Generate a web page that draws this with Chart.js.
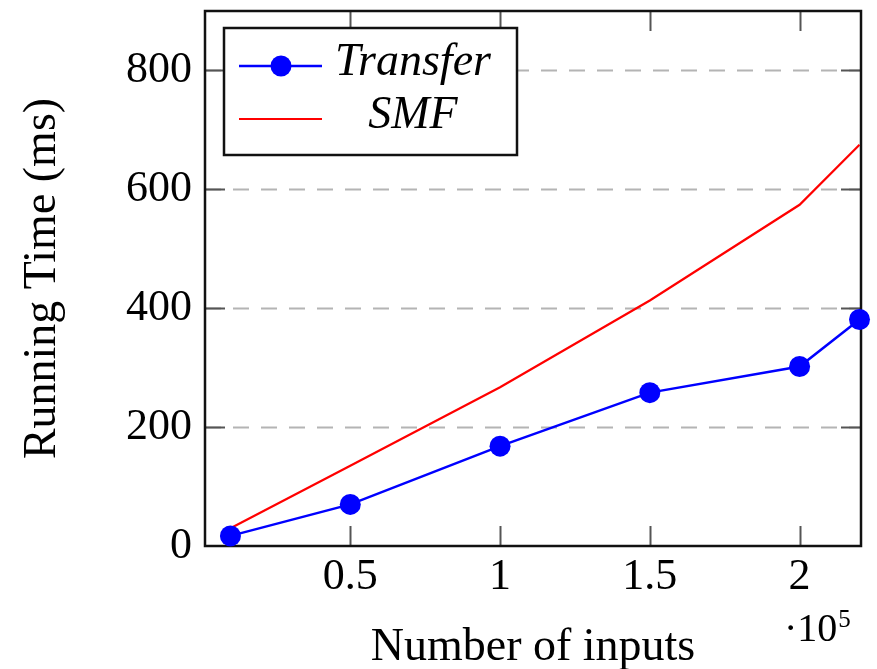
<!DOCTYPE html>
<html>
<head>
<meta charset="utf-8">
<script src="https://cdn.jsdelivr.net/npm/chart.js@4.4.1/dist/chart.umd.min.js"></script>
<style>
html,body{margin:0;padding:0;background:#fff;}
#wrap{width:877px;height:669px;position:relative;}
</style>
</head>
<body>
<div id="wrap"><canvas id="c" width="877" height="669"></canvas></div>
<script>
// ---- data ----
const inputs = [0.1, 0.5, 1, 1.5, 2, 2.2];          // x values (×10^5)
const transferTimes = [17, 70, 168, 258, 302, 381]; // ms
const smfTimes = [30, 135, 267, 413, 574, 675];     // ms
const xTickValues = [0.5, 1, 1.5, 2];
const yTickValues = [0, 200, 400, 600, 800];
const seriesNames = ['Transfer', 'SMF'];
const xTitle = 'Number of inputs';
const yTitle = 'Running Time (ms)';
const xExponent = '5';

const FONT = "'Liberation Serif', 'DejaVu Serif', serif";
const FS = 44;
const FT = 46;

const framePlugin = {
  id: 'frame',
  beforeDatasetsDraw(chart) {
    const {ctx, chartArea: a, scales} = chart;
    const y = scales.y, x = scales.x;
    ctx.save();
    ctx.strokeStyle = '#b4b4b4';
    ctx.lineWidth = 2;
    ctx.setLineDash([16, 12]);
    yTickValues.forEach(v => {
      if (v === 0) return;
      const py = Math.round(y.getPixelForValue(v)) + 0.5;
      ctx.beginPath(); ctx.moveTo(a.left, py); ctx.lineTo(a.right, py); ctx.stroke();
    });
    ctx.setLineDash([]);
    ctx.strokeStyle = '#555';
    ctx.lineWidth = 2;
    const TL = 20;
    yTickValues.forEach(v => {
      if (v === 0) return;
      const py = Math.round(y.getPixelForValue(v)) + 0.5;
      ctx.beginPath(); ctx.moveTo(a.left, py); ctx.lineTo(a.left + TL, py); ctx.stroke();
      ctx.beginPath(); ctx.moveTo(a.right, py); ctx.lineTo(a.right - TL, py); ctx.stroke();
    });
    xTickValues.forEach(v => {
      const px = Math.round(x.getPixelForValue(v)) + 0.5;
      ctx.beginPath(); ctx.moveTo(px, a.bottom); ctx.lineTo(px, a.bottom - TL); ctx.stroke();
      ctx.beginPath(); ctx.moveTo(px, a.top); ctx.lineTo(px, a.top + TL); ctx.stroke();
    });
    ctx.strokeStyle = '#111';
    ctx.lineWidth = 2.5;
    ctx.strokeRect(a.left, a.top, a.right - a.left, a.bottom - a.top);
    ctx.restore();
  },
  afterDraw(chart) {
    const {ctx} = chart;
    ctx.save();
    ctx.fillStyle = '#000';
    ctx.textBaseline = 'alphabetic';
    ctx.textAlign = 'left';
    ctx.font = '40px ' + FONT;
    ctx.fillText('\u00b710', 784, 641);
    const w = ctx.measureText('\u00b710').width;
    ctx.font = '25px ' + FONT;
    ctx.fillText(xExponent, 784 + w + 1, 627);
    // legend
    const L = {x: 224, y: 28, w: 293, h: 127};
    ctx.fillStyle = '#fff';
    ctx.fillRect(L.x, L.y, L.w, L.h);
    ctx.strokeStyle = '#111';
    ctx.lineWidth = 2.5;
    ctx.strokeRect(L.x, L.y, L.w, L.h);
    const rows = [66, 119];
    chart.data.datasets.forEach((ds, i) => {
      const ry = rows[i];
      ctx.strokeStyle = ds.borderColor;
      ctx.lineWidth = ds.borderWidth;
      ctx.beginPath(); ctx.moveTo(239, ry); ctx.lineTo(322, ry); ctx.stroke();
      if (ds.pointRadius > 0) {
        ctx.fillStyle = ds.pointBackgroundColor;
        ctx.beginPath(); ctx.arc(281, ry, ds.pointRadius, 0, Math.PI * 2); ctx.fill();
      }
      ctx.fillStyle = '#000';
      ctx.font = 'italic ' + FT + 'px ' + FONT;
      ctx.textAlign = 'center';
      ctx.textBaseline = 'middle';
      ctx.fillText(ds.label, 413, ry - 3);
    });
    ctx.restore();
  }
};

const chart = new Chart(document.getElementById('c'), {
  type: 'line',
  data: {
    datasets: [
      {
        label: seriesNames[0],
        data: inputs.map((x, i) => ({x, y: transferTimes[i]})),
        borderColor: '#0000ff',
        backgroundColor: '#0000ff',
        pointBackgroundColor: '#0000ff',
        pointBorderColor: '#0000ff',
        borderWidth: 2.5,
        pointRadius: 10.5,
        pointBorderWidth: 0,
        tension: 0,
        clip: false,
        order: 1
      },
      {
        label: seriesNames[1],
        data: inputs.map((x, i) => ({x, y: smfTimes[i]})),
        borderColor: '#ff0000',
        backgroundColor: '#ff0000',
        pointBackgroundColor: '#ff0000',
        borderWidth: 2.2,
        pointRadius: 0,
        tension: 0,
        clip: false,
        order: 2
      }
    ]
  },
  options: {
    responsive: false,
    animation: false,
    devicePixelRatio: 1,
    layout: {padding: {left: 0, top: 11, right: 16, bottom: 0}},
    plugins: {legend: {display: false}, tooltip: {enabled: false}},
    scales: {
      x: {
        type: 'linear',
        min: 0.015,
        max: 2.205,
        afterBuildTicks: s => { s.ticks = xTickValues.map(v => ({value: v})); },
        afterFit: s => { s.height = 123; s.paddingLeft = 0; s.paddingRight = 0; },
        grid: {display: false, drawTicks: false},
        border: {display: false},
        ticks: {
          color: '#000',
          font: {family: FONT, size: FS},
          padding: 5,
          maxRotation: 0,
          callback: v => String(v)
        },
        title: {
          display: true,
          text: xTitle,
          color: '#000',
          font: {family: FONT, size: FT, lineHeight: 0.9},
          padding: {top: 0, bottom: 0}
        }
      },
      y: {
        min: 0,
        max: 900,
        afterBuildTicks: s => { s.ticks = yTickValues.map(v => ({value: v})); },
        afterFit: s => { s.width = 205; s.paddingTop = 0; s.paddingBottom = 0; },
        grid: {display: false, drawTicks: false},
        border: {display: false},
        ticks: {
          color: '#000',
          font: {family: FONT, size: FS},
          padding: 13,
          callback: v => String(v)
        },
        title: {
          display: true,
          text: yTitle,
          color: '#000',
          font: {family: FONT, size: FT, lineHeight: 1.2},
          padding: {top: 15, bottom: 0}
        }
      }
    }
  },
  plugins: [framePlugin]
});
</script>
</body>
</html>
